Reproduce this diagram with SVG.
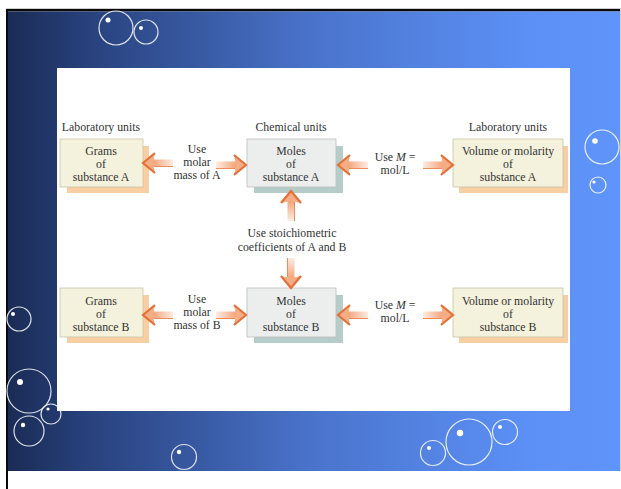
<svg xmlns="http://www.w3.org/2000/svg" xmlns:xlink="http://www.w3.org/1999/xlink" width="621" height="489" viewBox="0 0 621 489">
<style>
.t{font-family:"Liberation Serif","DejaVu Serif",serif;font-size:11.8px;fill:#333333;text-anchor:middle}
.bub{fill:none;stroke:#ffffff;stroke-opacity:0.85;stroke-width:1.2}
.dot{fill:#ffffff}
.cream{fill:#f4f1dc;stroke:#c9c5a9;stroke-width:0.8}
.grey{fill:#eceeee;stroke:#bdbdbd;stroke-width:0.8}
.shO{fill:#f8cfa3}
.shT{fill:#b6ccc8}
</style>
<defs>
<linearGradient id="bg" x1="0" y1="0" x2="1" y2="0">
<stop offset="0" stop-color="#1a2b55"/>
<stop offset="0.12" stop-color="#27407a"/>
<stop offset="0.5" stop-color="#4a74cc"/>
<stop offset="0.85" stop-color="#5c90f6"/>
<stop offset="1" stop-color="#5f94fb"/>
</linearGradient>
<linearGradient id="shaft" x1="0" y1="0" x2="1" y2="0">
<stop offset="0" stop-color="#fdece2"/>
<stop offset="1" stop-color="#f4a57a"/>
</linearGradient>
<g id="arr">
<rect x="0" y="-3.5" width="20" height="7" fill="url(#shaft)"/>
<line x1="0" y1="3.5" x2="19" y2="3.5" stroke="#ec8c5a" stroke-width="1"/>
<polygon points="18,-10 30,0 18,10 20,0" fill="#f5ad85"/>
<polyline points="18,-10 30,0 18,10" fill="none" stroke="#e4703a" stroke-width="2.2" stroke-linejoin="miter"/>
</g>
</defs>
<rect x="0" y="0" width="621" height="489" fill="#ffffff"/>
<line x1="6" y1="8.5" x2="621" y2="8.5" stroke="#cfcfcf" stroke-width="1"/>
<rect x="6" y="9" width="615" height="2.5" fill="#0a0a0a"/>
<rect x="6" y="9" width="2" height="480" fill="#0a0a0a"/>
<rect x="8" y="11.5" width="613" height="459.5" fill="url(#bg)"/>
<line x1="620.5" y1="9" x2="620.5" y2="471" stroke="#d0d0d0" stroke-width="1"/>
<g id="bubbles">
<circle class="bub" cx="116" cy="28" r="17"/><circle class="dot" cx="108" cy="20" r="2.5"/>
<circle class="bub" cx="146" cy="32" r="12"/><circle class="dot" cx="141" cy="28" r="2"/>
<circle class="bub" cx="602" cy="147" r="17"/><circle class="dot" cx="595" cy="141" r="2.8"/>
<circle class="bub" cx="598" cy="185" r="8"/><circle class="dot" cx="594" cy="182" r="1.6"/>
<circle class="bub" cx="19" cy="319" r="12"/><circle class="dot" cx="13" cy="314" r="2"/>
<circle class="bub" cx="29" cy="391" r="22"/><circle class="dot" cx="20" cy="382" r="3"/>
<circle class="bub" cx="51" cy="414" r="10"/><circle class="dot" cx="48" cy="409" r="1.6"/>
<circle class="bub" cx="29" cy="431" r="15"/><circle class="dot" cx="23" cy="425" r="2.2"/>
<circle class="bub" cx="184" cy="457" r="12.5"/><circle class="dot" cx="179" cy="452" r="2.2"/>
<circle class="bub" cx="433" cy="453" r="12.5"/><circle class="dot" cx="429" cy="448" r="2"/>
<circle class="bub" cx="469" cy="442" r="23"/><circle class="dot" cx="460" cy="433" r="3.2"/>
<circle class="bub" cx="505" cy="432" r="12.5"/><circle class="dot" cx="500" cy="427" r="2"/>
</g>
<rect x="57" y="68" width="513" height="343" fill="#ffffff"/>
<g id="labels">
<text class="t" x="101" y="131">Laboratory units</text>
<text class="t" x="291" y="131">Chemical units</text>
<text class="t" x="508" y="131">Laboratory units</text>
</g>
<g id="gramsA">
<rect class="shO" x="67" y="146" width="82" height="47"/>
<rect class="cream" x="60" y="139" width="83" height="48"/>
<text class="t" x="101" y="155">Grams</text><text class="t" x="101" y="168">of</text><text class="t" x="101" y="181">substance A</text>
</g>
<g id="molesA">
<rect class="shT" x="254" y="146" width="89" height="47"/>
<rect class="grey" x="247" y="139" width="89" height="48"/>
<text class="t" x="291" y="155">Moles</text><text class="t" x="291" y="168">of</text><text class="t" x="291" y="181">substance A</text>
</g>
<g id="volA">
<rect class="shO" x="459" y="146" width="109" height="47"/>
<rect class="cream" x="453" y="139" width="110" height="48"/>
<text class="t" x="508" y="155">Volume or molarity</text><text class="t" x="508" y="168">of</text><text class="t" x="508" y="181">substance A</text>
</g>
<g id="gramsB">
<rect class="shO" x="67" y="295" width="82" height="48"/>
<rect class="cream" x="60" y="288" width="83" height="49"/>
<text class="t" x="101" y="305">Grams</text><text class="t" x="101" y="318">of</text><text class="t" x="101" y="331">substance B</text>
</g>
<g id="molesB">
<rect class="shT" x="254" y="295" width="89" height="48"/>
<rect class="grey" x="247" y="288" width="89" height="49"/>
<text class="t" x="291" y="305">Moles</text><text class="t" x="291" y="318">of</text><text class="t" x="291" y="331">substance B</text>
</g>
<g id="volB">
<rect class="shO" x="459" y="295" width="109" height="48"/>
<rect class="cream" x="453" y="288" width="110" height="49"/>
<text class="t" x="508" y="305">Volume or molarity</text><text class="t" x="508" y="318">of</text><text class="t" x="508" y="331">substance B</text>
</g>
<g id="connectors">
<use xlink:href="#arr" transform="translate(173,163) scale(-1,1)"/>
<use xlink:href="#arr" transform="translate(216,165)"/>
<use xlink:href="#arr" transform="translate(368,165) scale(-1,1)"/>
<use xlink:href="#arr" transform="translate(423,165)"/>
<use xlink:href="#arr" transform="translate(291,221) rotate(-90)"/>
<use xlink:href="#arr" transform="translate(291,258) rotate(90)"/>
<use xlink:href="#arr" transform="translate(173,315) scale(-1,1)"/>
<use xlink:href="#arr" transform="translate(216,315)"/>
<use xlink:href="#arr" transform="translate(368,315) scale(-1,1)"/>
<use xlink:href="#arr" transform="translate(423,315)"/>
<text class="t" x="197" y="153">Use</text><text class="t" x="197" y="166">molar</text><text class="t" x="197" y="179">mass of A</text>
<text class="t" x="395" y="161">Use <tspan font-style="italic">M</tspan> =</text><text class="t" x="395" y="174">mol/L</text>
<text class="t" x="292" y="237">Use stoichiometric</text><text class="t" x="292" y="251">coefficients of A and B</text>
<text class="t" x="197" y="303">Use</text><text class="t" x="197" y="316">molar</text><text class="t" x="197" y="329">mass of B</text>
<text class="t" x="395" y="309">Use <tspan font-style="italic">M</tspan> =</text><text class="t" x="395" y="322">mol/L</text>
</g>
</svg>
